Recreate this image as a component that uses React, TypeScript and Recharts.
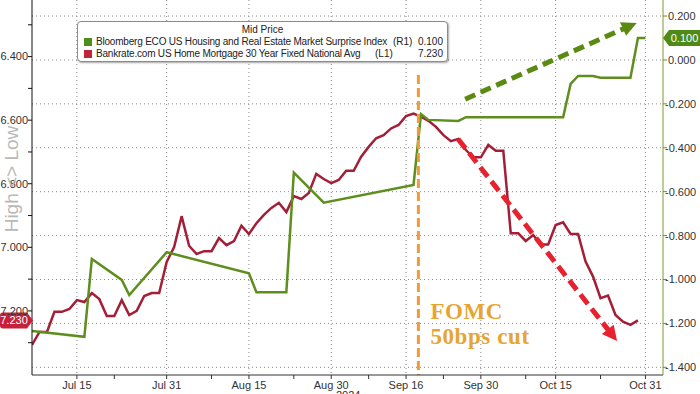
import React from 'react';
import { LineChart, Line, XAxis, YAxis, CartesianGrid, ReferenceLine, ReferenceDot } from 'recharts';

// Bankrate 30y fixed (left axis, inverted), one value per business day from early July
const mortgage = [
  7.307, 7.266, 7.266, 7.203, 7.203, 7.194, 7.166, 7.172, 7.144, 7.163,
  7.216, 7.216, 7.166, 7.213, 7.200, 7.153, 7.144, 7.144, 7.046, 6.999,
  6.902, 6.995, 7.021, 7.012, 7.012, 6.971, 6.993, 6.980, 6.932, 6.958,
  6.924, 6.898, 6.876, 6.860, 6.889, 6.839, 6.848, 6.829, 6.769, 6.785,
  6.798, 6.788, 6.759, 6.759, 6.715, 6.684, 6.657, 6.647, 6.626, 6.615,
  6.587, 6.579, 6.589, 6.602, 6.621, 6.647, 6.666, 6.659, 6.694, 6.717,
  6.717, 6.678, 6.696, 6.696, 6.956, 6.956, 6.980, 6.961, 6.991, 6.991,
  6.930, 6.921, 6.958, 6.958, 7.045, 7.092, 7.160, 7.152, 7.213, 7.234,
  7.244, 7.230,
];

// Bloomberg ECO housing surprise index (right axis), only on update days
const surpriseIdx = [0, 7, 8, 12, 13, 18, 29, 30, 34, 35, 39, 51, 52, 53, 57, 58, 71, 72, 73, 75, 76, 80, 81, 82];
const surpriseVal = [
  -1.235, -1.261, -0.907, -1.002, -1.071, -0.876, -0.972, -1.058, -1.058, -0.513,
  -0.650, -0.569, -0.247, -0.273, -0.278, -0.261, -0.261, -0.109, -0.073, -0.073,
  -0.081, -0.081, 0.1, 0.1,
];

const xTickIdx = [6, 18, 29, 40, 50, 60, 70, 82];
const xTickLabels = ['Jul 15', 'Jul 31', 'Aug 15', 'Aug 30', 'Sep 16', 'Sep 30', 'Oct 15', 'Oct 31'];
const xMinorIdx = [11, 24, 35, 45, 55, 66, 76];

const leftTicks = [6.4, 6.6, 6.8, 7.0, 7.2];
const leftMinor = [6.3, 6.5, 6.7, 6.9, 7.1, 7.3];
const rightTicks = [0.2, 0, -0.2, -0.4, -0.6, -0.8, -1.0, -1.2, -1.4];
const rightMinor = [0.1, -0.1, -0.3, -0.5, -0.7, -0.9, -1.1, -1.3];

const xDomain: [number, number] = [0, 84.35];
const leftDomain: [number, number] = [6.222, 7.4016];
const rightDomain: [number, number] = [-1.435, 0.273];

// annotations, in data units (x index, left-axis value)
const fomcX = 51.65;
const greenArrow = [{ x: 57.9, y: 6.534 }, { x: 80.84, y: 6.294 }];
const redArrow = [{ x: 56.95, y: 6.659 }, { x: 78.21, y: 7.295 }];

const RED = '#a31f37';
const GREEN = '#5e8e1e';
const ORANGE = '#f09a38';

const chartData = Array.from({ length: 83 }, (_, i) => {
  const k = surpriseIdx.indexOf(i);
  return {
    i,
    mortgage: i < mortgage.length ? mortgage[i] : null,
    surprise: k >= 0 ? surpriseVal[k] : null,
  };
});

const arrowShape = (color: string, dash: string) => (props: any) => {
  const { x1, y1, x2, y2 } = props;
  if ([x1, y1, x2, y2].some((v) => typeof v !== 'number')) return <g />;
  const len = Math.hypot(x2 - x1, y2 - y1);
  const ux = (x2 - x1) / len;
  const uy = (y2 - y1) / len;
  const L = 15;
  const W = 15;
  const bx = x2 - ux * L;
  const by = y2 - uy * L;
  const nx = -uy;
  const ny = ux;
  return (
    <g>
      <line x1={x1} y1={y1} x2={bx + ux * 2} y2={by + uy * 2} stroke={color} strokeWidth={5} strokeDasharray={dash} />
      <polygon
        points={`${x2},${y2} ${bx + (nx * W) / 2},${by + (ny * W) / 2} ${bx - (nx * W) / 2},${by - (ny * W) / 2}`}
        fill={color}
      />
    </g>
  );
};

const fomcShape = (props: any) => {
  const { x1, y1, x2, y2 } = props;
  if (typeof x1 !== 'number') return <g />;
  return (
    <g>
      <line x1={x1} y1={y1} x2={x2} y2={y2} stroke={ORANGE} strokeWidth={3} strokeDasharray="9 4" />
      <text
        x={x1 + 12}
        y={318.5}
        fill="#e6a532"
        fontFamily="'Liberation Serif', serif"
        fontWeight="bold"
        fontSize={23}
        letterSpacing={0.6}
      >
        FOMC
      </text>
      <text
        x={x1 + 12}
        y={344}
        fill="#e6a532"
        fontFamily="'Liberation Serif', serif"
        fontWeight="bold"
        fontSize={23}
        letterSpacing={0.6}
      >
        50bps cut
      </text>
    </g>
  );
};

const leftTag = (text: string) => (props: any) => {
  const { cx, cy } = props;
  if (typeof cx !== 'number') return <g />;
  return (
    <g>
      <path d={`M3,${cy - 8} L${cx - 5},${cy - 8} L${cx + 1},${cy} L${cx - 5},${cy + 8} L3,${cy + 8} Q0,${cy + 8} 0,${cy + 5} L0,${cy - 5} Q0,${cy - 8} 3,${cy - 8} Z`} fill="#c8203a" />
      <text x={(cx - 4) / 2} y={cy + 4} textAnchor="middle" fill="#fff" fontSize={11}>
        {text}
      </text>
    </g>
  );
};

const rightTag = (text: string) => (props: any) => {
  const { cx, cy } = props;
  if (typeof cx !== 'number') return <g />;
  return (
    <g>
      <path d={`M${cx},${cy} L${cx + 6},${cy - 8} L700,${cy - 8} L700,${cy + 8} L${cx + 6},${cy + 8} Z`} fill="#4f8a17" />
      <text x={(cx + 6 + 700) / 2} y={cy + 4} textAnchor="middle" fill="#fff" fontSize={11}>
        {text}
      </text>
    </g>
  );
};

const RightTick = (props: any) => {
  const { x, y, payload } = props;
  const v = payload.value;
  if (!rightTicks.includes(v)) return <g />;
  return (
    <text x={v < 0 ? x - 2 : x + 1} y={y + 4} fill="#333" fontSize={11} textAnchor="start">
      {v.toFixed(3)}
    </text>
  );
};

const legendRow = (top: number, color: string, name: string, tagLeft: number, tag: string, value: string) => (
  <>
    <div style={{ position: 'absolute', left: 6, top: top + 2, width: 8, height: 8, background: color }} />
    <span style={{ position: 'absolute', left: 18, top, letterSpacing: -0.2 }}>{name}</span>
    <span style={{ position: 'absolute', left: tagLeft, top }}>{tag}</span>
    <span style={{ position: 'absolute', right: 4, top }}>{value}</span>
  </>
);

export default function App() {
  return (
    <div
      style={{
        position: 'absolute',
        left: 0,
        top: 0,
        width: 700,
        height: 394,
        overflow: 'hidden',
        background: '#fff',
        fontFamily: "'Liberation Sans', Arial, sans-serif",
      }}
    >
      <LineChart width={700} height={394} data={chartData} margin={{ top: 0, right: 0, bottom: 0, left: 0 }}>
        <CartesianGrid
          yAxisId="right"
          stroke="#8a8a8a"
          strokeDasharray="1 3"
          verticalValues={xTickIdx}
          horizontalValues={rightTicks}
        />
        <XAxis
          dataKey="i"
          type="number"
          domain={xDomain}
          allowDataOverflow
          ticks={[...xTickIdx, ...xMinorIdx].sort((a, b) => a - b)}
          tickFormatter={(v: number) => {
            const k = xTickIdx.indexOf(v);
            return k >= 0 ? xTickLabels[k] : '';
          }}
          height={19}
          tickSize={4}
          tick={{ fontSize: 11, fill: '#333' }}
          axisLine={{ stroke: '#333' }}
          tickLine={{ stroke: '#333' }}
        />
        <YAxis
          yAxisId="left"
          reversed
          domain={leftDomain}
          allowDataOverflow
          ticks={[...leftTicks, ...leftMinor].sort((a, b) => a - b)}
          tickFormatter={(v: number) => (leftTicks.includes(v) ? v.toFixed(3) : '')}
          width={32}
          tickSize={4}
          tickMargin={0}
          tick={{ fontSize: 11, fill: '#333' }}
          axisLine={{ stroke: '#111' }}
          tickLine={{ stroke: '#111' }}
        />
        <YAxis
          yAxisId="right"
          orientation="right"
          domain={rightDomain}
          allowDataOverflow
          ticks={[...rightTicks, ...rightMinor].sort((a, b) => b - a)}
          width={37}
          tickSize={4}
          tickMargin={0}
          tick={<RightTick />}
          axisLine={{ stroke: '#7a9a2a' }}
          tickLine={{ stroke: '#6b8e23' }}
        />
        <Line
          yAxisId="left"
          dataKey="mortgage"
          stroke={RED}
          strokeWidth={2.5}
          dot={false}
          isAnimationActive={false}
        />
        <Line
          yAxisId="right"
          dataKey="surprise"
          stroke={GREEN}
          strokeWidth={2.5}
          dot={false}
          connectNulls
          isAnimationActive={false}
        />
        <ReferenceLine
          yAxisId="left"
          ifOverflow="visible"
          segment={[{ x: fomcX, y: 6.458 }, { x: fomcX, y: leftDomain[1] }]}
          shape={fomcShape}
        />
        <ReferenceLine yAxisId="left" ifOverflow="visible" segment={greenArrow} shape={arrowShape('#5b8a12', '11 6')} />
        <ReferenceLine yAxisId="left" ifOverflow="visible" segment={redArrow} shape={arrowShape('#e8212e', '12 6')} />
        <ReferenceDot
          yAxisId="left"
          x={xDomain[0]}
          y={mortgage[mortgage.length - 1]}
          ifOverflow="visible"
          shape={leftTag(mortgage[mortgage.length - 1].toFixed(3))}
        />
        <ReferenceDot
          yAxisId="right"
          x={xDomain[1]}
          y={surpriseVal[surpriseVal.length - 1]}
          ifOverflow="visible"
          shape={rightTag(surpriseVal[surpriseVal.length - 1].toFixed(3))}
        />
      </LineChart>

      <div
        style={{
          position: 'absolute',
          left: 77,
          top: 21,
          width: 369,
          height: 39,
          border: '1px solid #8c8c8c',
          borderRadius: 4,
          background: '#fff',
          boxShadow: '1px 1px 2px rgba(0,0,0,0.35)',
          fontSize: 10,
          lineHeight: '12px',
          color: '#222',
          whiteSpace: 'nowrap',
        }}
      >
        <div style={{ position: 'absolute', left: 0, right: 0, top: 2, textAlign: 'center' }}>Mid Price</div>
        {legendRow(14, '#4e8d1a', 'Bloomberg ECO US Housing and Real Estate Market Surprise Index', 315, '(R1)', '0.100')}
        {legendRow(26, '#c0243c', 'Bankrate.com US Home Mortgage 30 Year Fixed National Avg', 297, '(L1)', '7.230')}
      </div>

      <div
        style={{
          position: 'absolute',
          left: 12,
          top: 179,
          transform: 'translate(-50%, -50%) rotate(-90deg)',
          fontSize: 19,
          color: '#b8b8b8',
          whiteSpace: 'nowrap',
        }}
      >
        High &lt;&gt; Low
      </div>

      <div style={{ position: 'absolute', left: 336, top: 389, fontSize: 11, color: '#333' }}>2024</div>
    </div>
  );
}
